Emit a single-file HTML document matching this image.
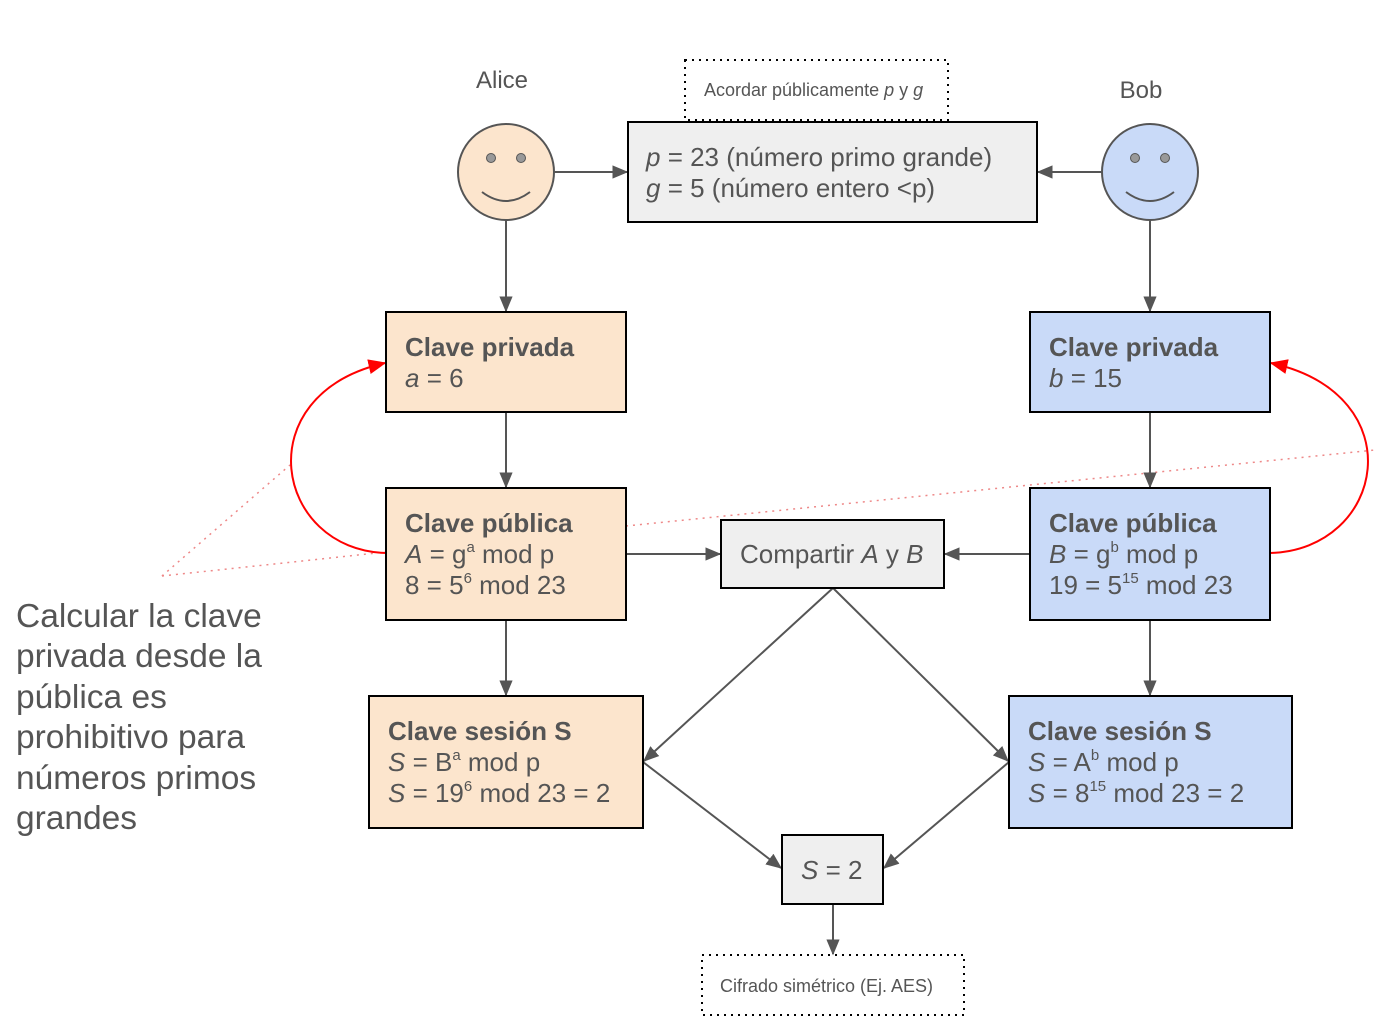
<!DOCTYPE html>
<html><head><meta charset="utf-8"><style>
body{margin:0;background:#fff}
svg text{font-family:"Liberation Sans",sans-serif;fill:#555}
</style></head><body>
<svg width="1387" height="1025" viewBox="0 0 1387 1025" xmlns="http://www.w3.org/2000/svg">
<defs>
<marker id="g" viewBox="0 0 12 12" markerWidth="16" markerHeight="16" refX="11" refY="6" orient="auto" markerUnits="userSpaceOnUse"><path d="M0,1 L12,6 L0,11 z" fill="#555"/></marker>
<marker id="r" viewBox="0 0 12 12" markerWidth="18" markerHeight="18" refX="11" refY="6" orient="auto" markerUnits="userSpaceOnUse"><path d="M0,1 L12,6 L0,11 z" fill="#f00"/></marker>
</defs>
<g stroke="#e88" stroke-width="1.5" stroke-dasharray="2,5" fill="none">
<line x1="162" y1="576" x2="290" y2="465"/>
<line x1="162" y1="576" x2="386" y2="552"/>
<line x1="626" y1="526" x2="1375" y2="450"/>
</g>
<g stroke="#555" stroke-width="2" fill="none" marker-end="url(#g)">
<line x1="506" y1="220" x2="506" y2="311"/>
<line x1="1150" y1="220" x2="1150" y2="311"/>
<line x1="554" y1="172" x2="627" y2="172"/>
<line x1="1102" y1="172" x2="1038" y2="172"/>
<line x1="506" y1="412" x2="506" y2="487"/>
<line x1="1150" y1="412" x2="1150" y2="487"/>
<line x1="506" y1="620" x2="506" y2="695"/>
<line x1="1150" y1="620" x2="1150" y2="695"/>
<line x1="626" y1="554" x2="720" y2="554"/>
<line x1="1030" y1="554" x2="945" y2="554"/>
<line x1="833" y1="588" x2="644" y2="761"/>
<line x1="833" y1="588" x2="1008" y2="761"/>
<line x1="643" y1="762" x2="781" y2="868"/>
<line x1="1009" y1="762" x2="884" y2="868"/>
<line x1="833" y1="904" x2="833" y2="954"/>
</g>
<g stroke="#f00" stroke-width="2" fill="none" marker-end="url(#r)">
<path d="M386,553 C275,550 245,395 385,363"/>
<path d="M1270,553 C1385,550 1415,395 1271,363"/>
</g>
<circle cx="506" cy="172" r="48" fill="#fce5cd" stroke="#555" stroke-width="2"/>
<circle cx="491" cy="158" r="4.5" fill="#999" stroke="#555"/><circle cx="521" cy="158" r="4.5" fill="#999" stroke="#555"/>
<path d="M482,192 Q506,210 530,192" stroke="#555" stroke-width="2" fill="none"/>
<circle cx="1150" cy="172" r="48" fill="#c9daf8" stroke="#555" stroke-width="2"/>
<circle cx="1135" cy="158" r="4.5" fill="#999" stroke="#555"/><circle cx="1165" cy="158" r="4.5" fill="#999" stroke="#555"/>
<path d="M1126,192 Q1150,210 1174,192" stroke="#555" stroke-width="2" fill="none"/>
<text x="502" y="88" font-size="24" text-anchor="middle">Alice</text>
<text x="1141" y="98" font-size="24" text-anchor="middle">Bob</text>
<g stroke="#000" stroke-width="2">
<rect x="628" y="122" width="409" height="100" fill="#efefef"/>
<rect x="386" y="312" width="240" height="100" fill="#fce5cd"/>
<rect x="386" y="488" width="240" height="132" fill="#fce5cd"/>
<rect x="369" y="696" width="274" height="132" fill="#fce5cd"/>
<rect x="1030" y="312" width="240" height="100" fill="#c9daf8"/>
<rect x="1030" y="488" width="240" height="132" fill="#c9daf8"/>
<rect x="1009" y="696" width="283" height="132" fill="#c9daf8"/>
<rect x="721" y="520" width="223" height="68" fill="#efefef"/>
<rect x="782" y="835" width="101" height="69" fill="#efefef"/>
</g>
<g stroke="#000" stroke-width="2" stroke-dasharray="2,5" fill="none">
<rect x="685" y="60" width="263" height="60"/>
<rect x="702" y="955" width="262" height="60"/>
</g>
<text x="704" y="96" font-size="18">Acordar públicamente <tspan font-style="italic">p</tspan> y <tspan font-style="italic">g</tspan></text>
<text x="720" y="992" font-size="18">Cifrado simétrico (Ej. AES)</text>
<g font-size="26">
<text x="646" y="166"><tspan font-style="italic">p</tspan> = 23 (número primo grande)</text>
<text x="646" y="197"><tspan font-style="italic">g</tspan> = 5 (número entero &lt;p)</text>
<text x="405" y="356" font-weight="bold">Clave privada</text>
<text x="405" y="387"><tspan font-style="italic">a</tspan> = 6</text>
<text x="405" y="532" font-weight="bold">Clave pública</text>
<text x="405" y="563"><tspan font-style="italic">A</tspan> = g<tspan font-size="15" dy="-11">a</tspan><tspan dy="11"> mod p</tspan></text>
<text x="405" y="594">8 = 5<tspan font-size="15" dy="-11">6</tspan><tspan dy="11"> mod 23</tspan></text>
<text x="388" y="740" font-weight="bold">Clave sesión S</text>
<text x="388" y="771"><tspan font-style="italic">S</tspan> = B<tspan font-size="15" dy="-11">a</tspan><tspan dy="11"> mod p</tspan></text>
<text x="388" y="802"><tspan font-style="italic">S</tspan> = 19<tspan font-size="15" dy="-11">6</tspan><tspan dy="11"> mod 23 = 2</tspan></text>
<text x="1049" y="356" font-weight="bold">Clave privada</text>
<text x="1049" y="387"><tspan font-style="italic">b</tspan> = 15</text>
<text x="1049" y="532" font-weight="bold">Clave pública</text>
<text x="1049" y="563"><tspan font-style="italic">B</tspan> = g<tspan font-size="15" dy="-11">b</tspan><tspan dy="11"> mod p</tspan></text>
<text x="1049" y="594">19 = 5<tspan font-size="15" dy="-11">15</tspan><tspan dy="11"> mod 23</tspan></text>
<text x="1028" y="740" font-weight="bold">Clave sesión S</text>
<text x="1028" y="771"><tspan font-style="italic">S</tspan> = A<tspan font-size="15" dy="-11">b</tspan><tspan dy="11"> mod p</tspan></text>
<text x="1028" y="802"><tspan font-style="italic">S</tspan> = 8<tspan font-size="15" dy="-11">15</tspan><tspan dy="11"> mod 23 = 2</tspan></text>
<text x="740" y="563">Compartir <tspan font-style="italic">A</tspan> y <tspan font-style="italic">B</tspan></text>
<text x="801" y="879"><tspan font-style="italic">S</tspan> = 2</text>
</g>
<g font-size="33.5">
<text x="16" y="627">Calcular la clave</text>
<text x="16" y="667">privada desde la</text>
<text x="16" y="708">pública es</text>
<text x="16" y="748">prohibitivo para</text>
<text x="16" y="789">números primos</text>
<text x="16" y="829">grandes</text>
</g>
</svg>
</body></html>
